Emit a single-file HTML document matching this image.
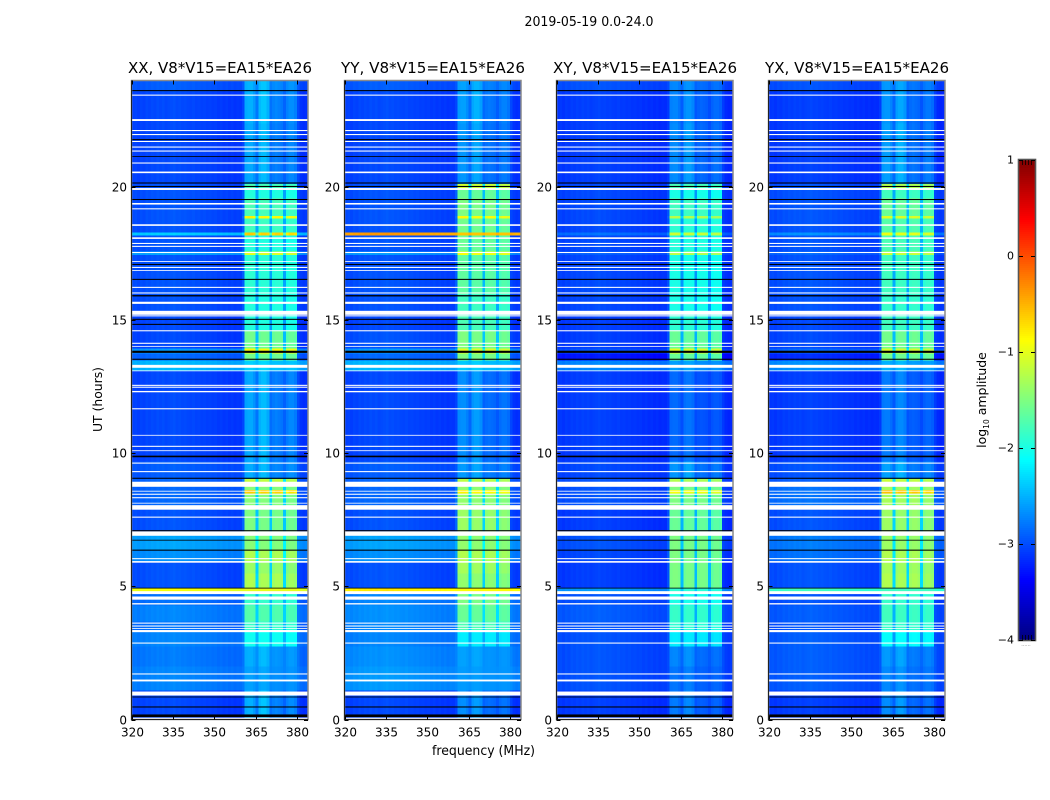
<!DOCTYPE html>
<html lang="en">
<head>
<meta charset="utf-8">
<title>2019-05-19 0.0-24.0</title>
<style>
html,body{margin:0;padding:0;background:#fff;}
svg{display:block;}
text{font-family:"DejaVu Sans","Liberation Sans",sans-serif;fill:#000;}
</style>
</head>
<body>
<svg id="fig" xmlns="http://www.w3.org/2000/svg" width="1050" height="800" viewBox="0 0 1050 800">
  <rect x="0" y="0" width="1050" height="800" fill="#fff"/>
  <text x="589" y="26" font-size="13" text-anchor="middle" textLength="129" lengthAdjust="spacingAndGlyphs">2019-05-19 0.0-24.0</text>
  <text transform="translate(102,399.5) rotate(-90)" font-size="12.5" text-anchor="middle" textLength="65" lengthAdjust="spacingAndGlyphs">UT (hours)</text>
  <text x="483.5" y="755" font-size="13" text-anchor="middle" textLength="103" lengthAdjust="spacingAndGlyphs">frequency (MHz)</text>
  <text transform="translate(986,400) rotate(-90)" font-size="12.5" text-anchor="middle">log<tspan font-size="7.5" dy="3">10</tspan><tspan dy="-3"> amplitude</tspan></text>
  <g id="panels"></g>
  <g id="colorbar"></g>
</svg>
<script>
// ---- Chart data (log10 amplitude) ----
const panelTitles = ["XX, V8*V15=EA15*EA26","YY, V8*V15=EA15*EA26","XY, V8*V15=EA15*EA26","YX, V8*V15=EA15*EA26"];
const xTickLabels = [320,335,350,365,380];
const yTickLabels = [0,5,10,15,20];
const colorbarTickLabels = [-4,-3,-2,-1,0,1];

// Upper edge (hours) of each time segment; the first segment starts at 0.
const segmentEnds = [0.85,1.1,2.0,2.75,3.3,3.7,4.3,4.82,4.93,5.5,5.95,6.4,7.0,7.9,8.5,8.63,8.75,9.04,9.7,13.1,13.5,13.77,13.95,14.6,15.2,16.0,17.1,17.46,17.6,18.2,18.3,18.83,18.93,19.6,19.9,20.13,22.4,23.6,24];
// 1 = correlator band bright, 0 = band quiet.
const bandState = [0,0,0,0,1,1,1,1,1,1,1,1,1,1,1,1,1,1,0,0,0,1,1,1,1,1,1,1,1,1,1,1,1,1,1,1,0,0,0];

const offBandXX = [-3.1,-3.1,-2.8,-2.85,-2.8,-2.9,-2.8,-2.9,-1.0,-3.05,-3.05,-2.75,-2.65,-3.05,-2.95,-2.95,-2.95,-2.95,-3.0,-3.1,-2.55,-2.95,-2.7,-3.1,-3.1,-3.05,-3.05,-3.05,-2.65,-3.05,-2.45,-3.05,-3.05,-3.05,-3.05,-3.05,-3.1,-3.1,-3.0];
const offBandYY = [-3.1,-3.1,-2.7,-2.75,-2.8,-2.8,-2.75,-2.8,-0.85,-3.05,-3.05,-2.75,-2.65,-3.05,-2.95,-2.95,-2.95,-2.95,-3.0,-3.1,-2.55,-2.95,-2.7,-3.05,-3.1,-3.05,-3.05,-3.05,-2.7,-3.05,-0.45,-3.05,-3.05,-3.05,-3.05,-3.05,-3.1,-3.1,-3.0];
const offBandXY = [-3.15,-3.15,-3.05,-3.05,-3.05,-3.05,-3.0,-3.05,-2.7,-3.15,-3.15,-3.1,-3.05,-3.15,-3.05,-3.05,-3.05,-3.05,-3.1,-3.15,-2.8,-3.35,-3.05,-3.15,-3.15,-3.1,-3.1,-3.1,-3.0,-3.1,-2.9,-3.1,-3.1,-3.1,-3.1,-3.1,-3.15,-3.15,-3.05];
const offBandYX = [-3.15,-3.15,-3.0,-3.0,-3.0,-3.05,-3.0,-3.05,-1.9,-3.05,-3.05,-2.9,-2.85,-3.05,-2.9,-2.9,-2.9,-3.0,-3.05,-3.15,-2.75,-3.25,-2.95,-3.1,-3.1,-3.05,-3.05,-3.05,-2.95,-3.05,-2.75,-3.05,-3.05,-3.05,-3.05,-3.05,-3.15,-3.15,-3.05];

const onBandXX = [-2.4,-2.4,-2.55,-2.45,-2.05,-1.85,-1.7,-1.85,-1.0,-1.25,-1.35,-1.25,-1.45,-1.5,-1.45,-0.6,-1.45,-1.15,-2.45,-2.45,-2.3,-1.55,-0.85,-1.55,-1.95,-1.95,-1.9,-1.9,-1.0,-1.95,-0.6,-1.8,-0.8,-1.75,-1.95,-1.75,-2.45,-2.4,-2.4];
const onBandYY = [-2.6,-2.6,-2.6,-2.55,-2.2,-1.75,-1.6,-1.5,-0.9,-1.4,-1.3,-1.25,-1.4,-1.35,-1.4,-0.8,-1.4,-1.2,-2.55,-2.6,-2.35,-1.5,-1.0,-1.5,-1.75,-1.8,-1.65,-1.65,-0.9,-1.6,-0.6,-1.55,-0.85,-1.5,-1.6,-1.1,-2.55,-2.5,-2.5];
const onBandXY = [-2.7,-2.7,-2.75,-2.65,-2.2,-1.9,-1.85,-2.0,-1.9,-1.5,-1.5,-1.5,-1.5,-1.6,-1.5,-0.9,-1.5,-1.25,-2.55,-2.8,-2.55,-1.6,-1.0,-1.6,-1.9,-2.0,-2.0,-2.0,-1.2,-1.95,-1.1,-1.9,-1.2,-1.8,-2.0,-1.75,-2.6,-2.65,-2.65];
const onBandYX = [-2.6,-2.6,-2.65,-2.55,-2.1,-1.85,-1.8,-1.85,-1.8,-1.25,-1.3,-1.25,-1.35,-1.35,-1.3,-0.55,-1.3,-1.15,-2.5,-2.7,-2.45,-1.55,-1.05,-1.55,-1.8,-1.85,-1.8,-1.8,-1.1,-1.75,-0.95,-1.7,-1.0,-1.6,-1.8,-1.25,-2.5,-2.55,-2.55];

// Channel profile, 320-383 MHz in 1 MHz steps.
const offBandTilt = [0.03,0.05,0.02,0.06,0.04,0.08,0.06,0.09,0.07,0.1,0.08,0.1,0.07,0.09,0.1,0.12,0.09,0.1,0.08,0.09,0.07,0.06,0.08,0.05,0.06,0.04,0.05,0.03,0.04,0.02,0.03,0,0.02,-0.01,0.01,-0.02,0,-0.03,-0.01,-0.02,0,0,0,0,0,0,0,0,0,0,0,0,0,0,0,0,0,0,0,0,0.02,-0.03,-0.06,-0.04];
const brightBandGain = [0,0,0,0,0,0,0,0,0,0,0,0,0,0,0,0,0,0,0,0,0,0,0,0,0,0,0,0,0,0,0,0,0,0,0,0,0,0,0,0,0.1,0.98,1,1,0.98,0.42,0.95,0.98,0.98,0.96,0.42,0.95,0.98,0.98,0.95,0.42,0.9,0.95,0.95,0.92,0,0,0,0];
const quietBandGain = [0,0,0,0,0,0,0,0,0,0,0,0,0,0,0,0,0,0,0,0,0,0,0,0,0,0,0,0,0,0,0,0,0,0,0,0,0,0,0,0,0.1,0.8,0.85,0.85,0.7,0.45,0.9,1,1,0.85,0.4,0.5,0.55,0.5,0.45,0.3,0.5,0.6,0.6,0.5,0.1,0,0,0];

// Flagged (blank) and zero-amplitude rows, hours [start, end].
const blankRows = [[0,0.07],[0.9,1.05],[1.43,1.5],[1.69,1.73],[2.85,2.89],[3.28,3.36],[3.4,3.43],[3.49,3.53],[3.6,3.64],[4.32,4.37],[4.5,4.62],[4.71,4.82],[5.89,5.95],[6.02,6.06],[6.9,7.07],[7.58,7.62],[7.88,8.05],[8.11,8.14],[8.31,8.35],[8.44,8.48],[8.56,8.59],[8.74,8.93],[9.29,9.33],[9.61,9.65],[10.08,10.11],[10.24,10.28],[10.66,10.69],[11.65,11.69],[12.29,12.34],[12.46,12.5],[12.53,12.57],[13.08,13.11],[13.21,13.32],[14.0,14.03],[14.11,14.15],[14.58,14.62],[15.14,15.18],[15.2,15.35],[15.61,15.69],[16.0,16.04],[16.21,16.25],[16.85,16.88],[16.96,17.0],[17.19,17.22],[17.52,17.56],[17.75,17.79],[17.86,17.9],[18.05,18.11],[18.54,18.6],[19.16,19.2],[19.34,19.4],[19.89,19.96],[20.52,20.58],[20.88,20.92],[21.33,21.37],[21.48,21.52],[21.69,21.73],[21.95,21.99],[22.1,22.14],[22.48,22.55],[23.43,23.47]];
const zeroRows = [[0.09,0.19],[0.45,0.49],[0.83,0.86],[4.92,4.95],[6.34,6.38],[6.72,6.75],[7.07,7.11],[9.04,9.08],[9.85,9.91],[13.51,13.55],[13.77,13.85],[14.82,14.86],[15.01,15.05],[15.89,15.94],[16.51,16.55],[17.07,17.11],[19.51,19.55],[20.0,20.04],[20.13,20.17],[21.13,21.16],[21.76,21.8],[23.6,23.64]];

const offBands = [offBandXX,offBandYY,offBandXY,offBandYX];
const onBands = [onBandXX,onBandYY,onBandXY,onBandYX];

// ---- Layout ----
const NS = "http://www.w3.org/2000/svg";
const panelLefts = [131.5,344.5,556.5,768.5];
const panelWidth = 176.5, axisTop = 80.5, axisBottom = 719.5;
const freqMin = 320, freqMax = 384, hourMin = 0, hourMax = 24;
const cbarLeft = 1019, cbarRight = 1035, cbarTop = 160, cbarBottom = 640;
const valueMin = -4, valueMax = 1;

function xScale(left, freq){ return left + (freq - freqMin) / (freqMax - freqMin) * panelWidth; }
function yScale(hour){ return axisBottom - (hour - hourMin) / (hourMax - hourMin) * (axisBottom - axisTop); }
function cbarScale(v){ return cbarBottom - (v - valueMin) / (valueMax - valueMin) * (cbarBottom - cbarTop); }
function clip01(v){ return Math.max(0, Math.min(1, v)); }
function jet(v){
  const t = clip01((v - valueMin) / (valueMax - valueMin));
  const r = clip01(1.5 - Math.abs(4 * t - 3));
  const g = clip01(1.5 - Math.abs(4 * t - 2));
  const b = clip01(1.5 - Math.abs(4 * t - 1));
  return "rgb(" + Math.round(r * 255) + "," + Math.round(g * 255) + "," + Math.round(b * 255) + ")";
}
function make(tag, attrs, parent){
  const el = document.createElementNS(NS, tag);
  for (const k in attrs) el.setAttribute(k, attrs[k]);
  parent.appendChild(el);
  return el;
}

const panelsRoot = document.getElementById("panels");
panelTitles.forEach(function(title, p){
  const left = panelLefts[p], right = left + panelWidth;
  const g = make("g", {}, panelsRoot);
  
  

  const titleEl = make("text", {x: left + panelWidth / 2 + 0.3, y: 73, "font-size": 15.5, "text-anchor": "middle", textLength: 184, lengthAdjust: "spacingAndGlyphs"}, g);
  titleEl.textContent = title;
  
  

  // heatmap cells
  const cells = make("g", {"shape-rendering": "crispEdges"}, g);
  
  
  segmentEnds.forEach(function(end, s){
    const start = s === 0 ? hourMin : segmentEnds[s - 1];
    const gain = bandState[s] ? brightBandGain : quietBandGain;
    const off = offBands[p][s], on = onBands[p][s];
    offBandTilt.forEach(function(tilt, c){
      const base = off + tilt;
      const value = base + (on - base) * gain[c];
      const x0 = xScale(left, freqMin + c), x1 = xScale(left, freqMin + c + 1);
      const y0 = yScale(end), y1 = yScale(start);
      const cell = make("rect", {x: x0.toFixed(2), y: y0.toFixed(2), width: (x1 - x0 + 0.4).toFixed(2), height: (y1 - y0 + 0.4).toFixed(2), fill: jet(value)}, cells);
      
      
    });
  });

  // flagged rows
  blankRows.forEach(function(row){
    const y0 = yScale(row[1]), y1 = yScale(row[0]);
    const band = make("rect", {x: left, y: y0.toFixed(2), width: panelWidth, height: (y1 - y0).toFixed(2), fill: "#fff"}, g);
    
    
  });
  zeroRows.forEach(function(row){
    const y0 = yScale(row[1]), y1 = yScale(row[0]);
    const band = make("rect", {x: left, y: y0.toFixed(2), width: panelWidth, height: (y1 - y0).toFixed(2), fill: "#000"}, g);
    
    
  });

  // frame: grey top/right, darker left/bottom, as in the reference
  const frame = make("rect", {x: left, y: axisTop, width: panelWidth, height: axisBottom - axisTop, fill: "none", stroke: "#8a8a8a", "stroke-width": 1.5}, g);
  
  
  const frameDark = make("path", {d: "M" + left + " " + axisTop + "V" + axisBottom + "H" + right, fill: "none", stroke: "#222", "stroke-width": 1}, g);
  
  

  // x ticks and labels
  xTickLabels.forEach(function(v){
    const x = Math.round(xScale(left, v)) + 0.5;
    const tick = make("path", {d: "M" + x + " " + axisBottom + "v-4M" + x + " " + axisTop + "v4", stroke: "#000", "stroke-width": 1, fill: "none"}, g);
    
    
    const label = make("text", {x: x, y: 736.5, "font-size": 12, "text-anchor": "middle"}, g);
    label.textContent = String(v);
    
    
  });

  // y ticks and labels
  yTickLabels.forEach(function(v){
    const y = Math.round(yScale(v)) + 0.5;
    const tick = make("path", {d: "M" + left + " " + y + "h4M" + right + " " + y + "h-4", stroke: "#000", "stroke-width": 1, fill: "none"}, g);
    
    
    const label = make("text", {x: left - 4.5, y: y + 4, "font-size": 12, "text-anchor": "end"}, g);
    label.textContent = String(v);
    
    
  });
});

// ---- Colorbar ----
const cbarRoot = document.getElementById("colorbar");
const cbarRamp = make("g", {"shape-rendering": "crispEdges"}, cbarRoot);


for (let py = cbarTop; py < cbarBottom; py += 2) {
  const v = valueMax - (py + 1 - cbarTop) / (cbarBottom - cbarTop) * (valueMax - valueMin);
  const step = make("rect", {x: cbarLeft, y: py, width: cbarRight - cbarLeft, height: 2.2, fill: jet(v)}, cbarRamp);
  
  
}
const cbarFrame = make("rect", {x: cbarLeft - 0.5, y: cbarTop - 0.5, width: cbarRight - cbarLeft + 1, height: cbarBottom - cbarTop + 1, fill: "none", stroke: "#555", "stroke-width": 1.6}, cbarRoot);


colorbarTickLabels.forEach(function(v){
  const y = Math.round(cbarScale(v)) + 0.5;
  const tick = make("path", {d: "M" + cbarLeft + " " + y + "h4M" + cbarRight + " " + y + "h-4", stroke: "#000", "stroke-width": 1, fill: "none"}, cbarRoot);
  
  
  const label = make("text", {x: cbarLeft - 5, y: y + 3, "font-size": 11, "text-anchor": "end"}, cbarRoot);
  label.textContent = v < 0 ? "\u2212" + Math.abs(v) : String(v);
  
  
});
const cbarTopTicks = make("path", {d: "M1022.5 160v5M1025.5 160v5M1028.5 160v5M1031.5 160v5M1022.5 640v-5M1025.5 640v-5M1028.5 640v-5M1031.5 640v-5", stroke: "#000", "stroke-width": 1, fill: "none", opacity: 0.75}, cbarRoot);


const cbarDots = make("text", {x: 1026, y: 646, "font-size": 5, "text-anchor": "middle", style: "fill:#777"}, cbarRoot);
cbarDots.textContent = "......";


</script>
</body>
</html>
